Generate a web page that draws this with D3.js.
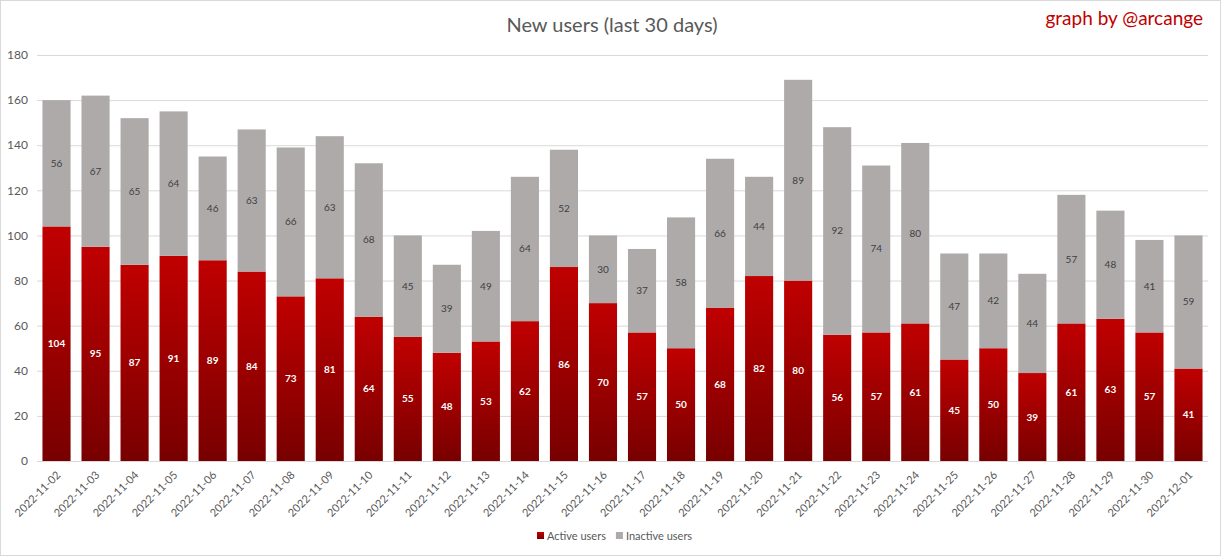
<!DOCTYPE html>
<html><head><meta charset="utf-8">
<script src="https://cdn.jsdelivr.net/npm/d3@7"></script>
<style>body{margin:0;background:#fff;}svg{display:block;font-family:Lato,"Open Sans",sans-serif;}</style>
</head><body>
<svg id="c" width="1223" height="557"></svg>
<script>
const dates = ["2022-11-02","2022-11-03","2022-11-04","2022-11-05","2022-11-06","2022-11-07","2022-11-08","2022-11-09","2022-11-10","2022-11-11","2022-11-12","2022-11-13","2022-11-14","2022-11-15","2022-11-16","2022-11-17","2022-11-18","2022-11-19","2022-11-20","2022-11-21","2022-11-22","2022-11-23","2022-11-24","2022-11-25","2022-11-26","2022-11-27","2022-11-28","2022-11-29","2022-11-30","2022-12-01"];
const active = [104,95,87,91,89,84,73,81,64,55,48,53,62,86,70,57,50,68,82,80,56,57,61,45,50,39,61,63,57,41];
const inactive = [56,67,65,64,46,63,66,63,68,45,39,49,64,52,30,37,58,66,44,89,92,74,80,47,42,44,57,48,41,59];
const yTicks = [0,20,40,60,80,100,120,140,160,180];
const seriesNames = ["Active users","Inactive users"];

const svg = d3.select("#c");
const W = 1223, H = 557;
const m = {l:37, r:15, t:55, b:96};
svg.append("rect").attr("x",0.5).attr("y",0.5).attr("width",1220).attr("height",555)
  .attr("fill","#fff").attr("stroke","#d9d9d9");

const defs = svg.append("defs");
const g1 = defs.append("linearGradient").attr("id","red").attr("x1",0).attr("y1",0).attr("x2",0).attr("y2",1);
g1.append("stop").attr("offset","0%").attr("stop-color","#c00000");
g1.append("stop").attr("offset","100%").attr("stop-color","#780000");

const x = d3.scaleBand().domain(dates).range([m.l, W - m.r]).paddingInner(0.28).paddingOuter(0.14);
const y = d3.scaleLinear().domain([0,180]).range([H - m.b, m.t]);

// grid
svg.append("g").selectAll("line").data(yTicks.filter(d=>d>0)).join("line")
  .attr("x1", m.l).attr("x2", W - m.r).attr("y1", d=>y(d)+0.5).attr("y2", d=>y(d)+0.5)
  .attr("stroke","#d9d9d9").attr("stroke-width",1);

// y labels
svg.append("g").selectAll("text").data(yTicks).join("text")
  .attr("x", m.l - 9).attr("y", d=>y(d)).attr("dy","0.35em").attr("text-anchor","end")
  .attr("font-size",12).attr("fill","#595959").text(d=>d);

const data = dates.map((d,i)=>({d, a:active[i], n:inactive[i]}));

// bars
const bars = svg.append("g");
bars.selectAll("rect.a").data(data).join("rect").attr("class","a")
  .attr("x", d=>x(d.d)).attr("width", x.bandwidth())
  .attr("y", d=>y(d.a)).attr("height", d=>y(0)-y(d.a)).attr("fill","url(#red)");
bars.selectAll("rect.n").data(data).join("rect").attr("class","n")
  .attr("x", d=>x(d.d)).attr("width", x.bandwidth())
  .attr("y", d=>y(d.a+d.n)).attr("height", d=>y(d.a)-y(d.a+d.n)).attr("fill","#aeaaaa");

// labels
bars.selectAll("text.a").data(data).join("text").attr("class","a")
  .attr("x", d=>x(d.d)+x.bandwidth()/2).attr("y", d=>y(d.a/2)).attr("dy","0.35em")
  .attr("text-anchor","middle").attr("font-size",10).attr("font-weight","bold").attr("fill","#fff")
  .text(d=>d.a);
bars.selectAll("text.n").data(data).join("text").attr("class","n")
  .attr("x", d=>x(d.d)+x.bandwidth()/2).attr("y", d=>y(d.a + d.n/2)).attr("dy","0.35em")
  .attr("text-anchor","middle").attr("font-size",10).attr("fill","#404040")
  .text(d=>d.n);

// x axis line
svg.append("line").attr("x1", m.l).attr("x2", W - m.r).attr("y1", y(0)+0.5).attr("y2", y(0)+0.5)
  .attr("stroke","#d9d9d9");

// x labels
svg.append("g").selectAll("text").data(dates).join("text")
  .attr("transform", d=>`translate(${x(d)+x.bandwidth()/2+2},${y(0)+12}) rotate(-45)`)
  .attr("text-anchor","end").attr("dy","0.35em").attr("font-size",11).attr("fill","#595959")
  .text(d=>d);

// title
svg.append("text").attr("x", 612).attr("y", 32).attr("text-anchor","middle")
  .attr("font-size",20).attr("fill","#595959").text("New users (last 30 days)");
svg.append("text").attr("x", 1203).attr("y", 25).attr("text-anchor","end")
  .attr("font-size",19).attr("fill","#c00000").text("graph by @arcange");

// legend
const leg = svg.append("g").attr("transform","translate(537,536)");
const items = [{n:seriesNames[0], f:"url(#red)"},{n:seriesNames[1], f:"#aeaaaa"}];
let lx = 0;
items.forEach((it,i)=>{
  leg.append("rect").attr("x",lx).attr("y",-4).attr("width",7).attr("height",7).attr("fill",it.f);
  const t = leg.append("text").attr("x",lx+10).attr("y",0).attr("dy","0.35em")
    .attr("font-size",11).attr("fill","#595959").text(it.n);
  lx += 10 + t.node().getComputedTextLength() + 10;
});
</script>
</body></html>
